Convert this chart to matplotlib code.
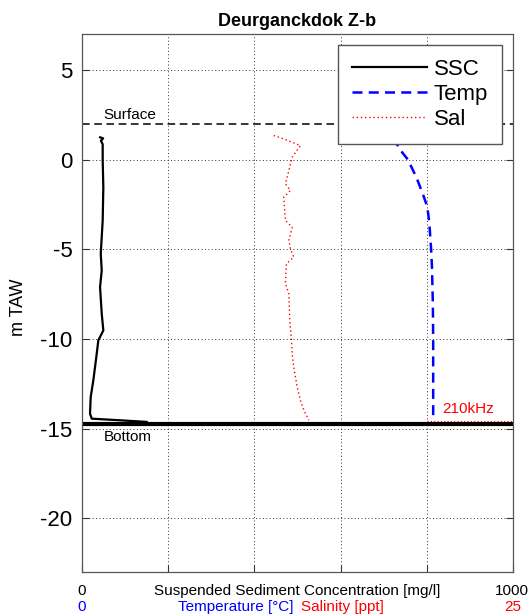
import matplotlib
matplotlib.use("Agg")
import matplotlib.pyplot as plt

plt.rcParams['font.family'] = ['Liberation Sans', 'DejaVu Sans']
plt.rcParams['axes.unicode_minus'] = False

# SSC profile [mg/l] vs depth [m TAW]
ssc_depth = [1.24, 1.18, 1.05, 0.85, -0.06, -1.54, -3.40, -5.25, -6.18, -7.11, -8.60,
             -9.53, -10.08, -10.82, -12.31, -13.24, -14.17, -14.45, -14.54, -14.63]
ssc = [42, 49, 44, 48, 48, 49.5, 48, 43.5, 45.8, 41.9, 45.8,
       49.5, 37.9, 34.2, 26.3, 20.2, 18.6, 22.6, 88, 150]

# temperature [degC]
temp_depth = [1.2, 0.8, 0.4, 0.0, -0.5, -1.0, -1.5, -2.0, -2.5, -3.0, -3.5, -4.0,
              -5.0, -6.0, -8.0, -10.0, -12.0, -14.0, -14.6]
temp = [18.0, 18.3, 18.57, 18.9, 19.15, 19.4, 19.6, 19.8, 19.98, 20.08, 20.14, 20.18,
        20.25, 20.3, 20.35, 20.37, 20.37, 20.37, 20.37]

# salinity [ppt]
sal_depth = [1.34, 1.15, 0.78, 0.13, -0.61, -1.35, -1.73, -2.10, -3.40, -3.77, -4.51,
             -4.97, -5.44, -5.81, -6.92, -7.48, -8.97, -10.08, -10.82, -11.57, -12.68,
             -13.43, -13.98, -14.54]
sal = [11.12, 11.70, 12.67, 12.19, 12.0, 11.80, 12.09, 11.70, 11.80, 12.19, 12.0,
       12.09, 12.28, 11.86, 11.80, 12.0, 12.05, 12.15, 12.19, 12.28, 12.48,
       12.67, 12.87, 13.16]

surface_level = 2.0
bottom_level = -14.72
freq_level = -14.58
freq_range = [800, 1000]

W, H = 531, 616
fig = plt.figure(figsize=(W / 100, H / 100), dpi=100)
ax = fig.add_axes([82 / W, 1 - 572 / H, (513 - 82) / W, (572 - 34) / H])

ax.set_xlim(0, 1000)
ax.set_ylim(-23, 7)
ax.set_xticks([0, 200, 400, 600, 800, 1000])
ax.set_xticklabels([])
ax.set_yticks([-20, -15, -10, -5, 0, 5])
ax.tick_params(direction='in', top=True, right=True, length=5, labelsize=16,
               color='#333333', width=0.8, pad=7)
for s in ax.spines.values():
    s.set_color('#555555')
    s.set_linewidth(0.9)
ax.grid(True, color='#333333', linestyle=(0, (1, 2.5)), linewidth=0.7)
ax.set_axisbelow(True)

ax.axhline(surface_level, color='black', ls=(0, (5, 3)), lw=1.1)
ax.axhline(bottom_level, color='black', lw=3)
ax.plot(freq_range, [freq_level, freq_level], color='red', ls=(0, (1, 2)), lw=0.8)
l1, = ax.plot(ssc, ssc_depth, color='black', lw=1.6, label='SSC')

ax.text(50, 2.1, 'Surface', fontsize=11, va='bottom', ha='left')
ax.text(50, -15.45, 'Bottom', fontsize=11, va='center', ha='left')
ax.text(835, -13.9, '210kHz', fontsize=11, color='red', va='center', ha='left')

ax.set_title('Deurganckdok Z-b', fontsize=13, fontweight='bold', pad=6)
ax.set_ylabel('m TAW', fontsize=13, va='center')
ax.yaxis.set_label_coords((18.5 - 82) / 431, (572 - 307) / 538)

ax2 = ax.twiny()
ax2.set_xlim(0, 25)
ax2.set_ylim(-23, 7)
ax2.set_xticks([])
ax2.axis('off')
l2, = ax2.plot(temp, temp_depth, color='blue', ls=(0, (4, 2.5)), lw=1.8, label='Temp')
l3, = ax2.plot(sal, sal_depth, color='red', ls=(0, (1, 2)), lw=1.0, label='Sal')

leg = ax2.legend(handles=[l1, l2, l3], loc='upper right',
                 bbox_to_anchor=((502 - 82) / 431, (572 - 45) / 538),
                 borderaxespad=0, fontsize=16, handlelength=3.4, handletextpad=0.3,
                 labelspacing=0.18, borderpad=0.62, fancybox=False, framealpha=1)
leg.get_frame().set_edgecolor('#555555')
leg.get_frame().set_linewidth(1.0)

def ft(x, y, s, color='black', ha='center'):
    fig.text(x / W, 1 - y / H, s, color=color, ha=ha, va='center', fontsize=11)

ft(82, 591, '0')
ft(297, 591, 'Suspended Sediment Concentration [mg/l]')
ft(512, 591, '1000')
ft(82, 607, '0', color='blue')
ft(293, 607, 'Temperature [°C]', color='blue', ha='right')
ft(301, 607, 'Salinity [ppt]', color='red', ha='left')
ft(513, 607, '25', color='red')

fig.savefig('out.png', dpi=100)
